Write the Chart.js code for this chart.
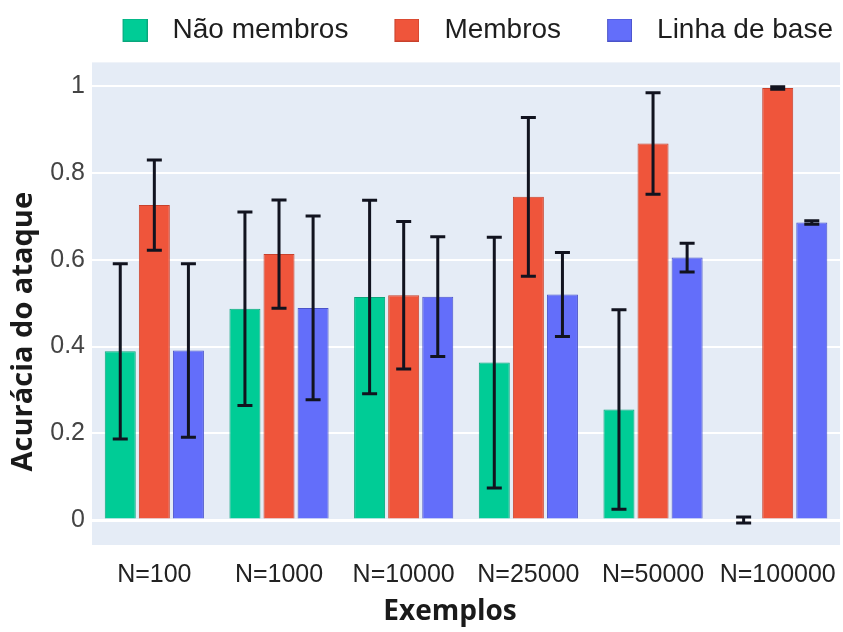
<!DOCTYPE html>
<html>
<head>
<meta charset="utf-8">
<script src="https://cdn.jsdelivr.net/npm/chart.js@4.4.0/dist/chart.umd.min.js"></script>
<style>
  html, body { margin: 0; padding: 0; background: #fff; }
</style>
</head>
<body>
<canvas id="chart" width="843" height="632"></canvas>
<script>
// dados
const categorias = ["N=100", "N=1000", "N=10000", "N=25000", "N=50000", "N=100000"];
const naoMembros = [0.389, 0.487, 0.514, 0.363, 0.255, 0.0];
const naoMembrosErro = [0.202, 0.223, 0.223, 0.289, 0.23, 0.007];
const membros = [0.726, 0.613, 0.518, 0.745, 0.868, 0.996];
const membrosErro = [0.104, 0.125, 0.17, 0.183, 0.117, 0.003];
const base = [0.391, 0.489, 0.515, 0.52, 0.605, 0.686];
const baseErro = [0.2, 0.212, 0.138, 0.097, 0.033, 0.004];
const yTicks = [0, 0.2, 0.4, 0.6, 0.8, 1];

const cores = ["#00CC96", "#EF553B", "#636EFA"];
const bordas = ["#0aa67c", "#c8412c", "#4a53c9"];

// quadradinho da legenda (desenhado à direita da imagem)
function quadrado(cor, borda) {
  const c = document.createElement("canvas");
  c.width = 50;
  c.height = 23;
  const g = c.getContext("2d");
  g.fillStyle = cor;
  g.fillRect(25, 0, 25, 23);
  g.strokeStyle = borda;
  g.lineWidth = 1;
  g.strokeRect(25.5, 0.5, 24, 22);
  return c;
}
const imagens = cores.map((c, i) => quadrado(c, bordas[i]));

// fundo do gráfico
const fundo = {
  id: "fundo",
  beforeDraw(chart) {
    const { ctx, chartArea: a } = chart;
    ctx.save();
    ctx.fillStyle = "#E5ECF6";
    ctx.fillRect(a.left, a.top, a.right - a.left, a.bottom - a.top);
    ctx.restore();
  }
};

// desloca os títulos dos eixos como no original
function deslocaTitulo(scale, dx, dy) {
  if (scale._deslocado) return;
  const orig = Object.getPrototypeOf(scale).drawTitle;
  scale.drawTitle = function () {
    this.ctx.save();
    this.ctx.translate(dx, dy);
    orig.call(this);
    this.ctx.restore();
  };
  scale._deslocado = true;
}
const titulos = {
  id: "titulos",
  beforeDraw(chart) {
    deslocaTitulo(chart.scales.y, 0, 28);
    deslocaTitulo(chart.scales.x, -16, 0);
  }
};

// barras de erro
const barrasErro = {
  id: "barrasErro",
  afterDatasetsDraw(chart) {
    const ctx = chart.ctx;
    const y = chart.scales.y;
    ctx.save();
    ctx.strokeStyle = "#11131f";
    ctx.lineWidth = 3;
    chart.data.datasets.forEach((ds, i) => {
      chart.getDatasetMeta(i).data.forEach((bar, j) => {
        const v = ds.data[j], e = ds.erro[j];
        const topo = y.getPixelForValue(v + e);
        const fim = y.getPixelForValue(v - e);
        const x = bar.x;
        ctx.beginPath();
        ctx.moveTo(x, topo); ctx.lineTo(x, fim);
        ctx.moveTo(x - 7.5, topo); ctx.lineTo(x + 7.5, topo);
        ctx.moveTo(x - 7.5, fim); ctx.lineTo(x + 7.5, fim);
        ctx.stroke();
      });
    });
    ctx.restore();
  }
};

new Chart(document.getElementById("chart"), {
  type: "bar",
  data: {
    labels: categorias,
    datasets: [
      { label: "Não membros", data: naoMembros, erro: naoMembrosErro },
      { label: "Membros", data: membros, erro: membrosErro },
      { label: "Linha de base", data: base, erro: baseErro }
    ].map((d, i) => Object.assign(d, {
      backgroundColor: cores[i],
      borderColor: bordas[i],
      borderWidth: 1,
      categoryPercentage: 0.82,
      barPercentage: 0.91
    }))
  },
  options: {
    responsive: false,
    animation: false,
    layout: { padding: { top: 6, left: 0, right: 0, bottom: 0 } },
    plugins: {
      tooltip: { enabled: false },
      legend: {
        position: "top",
        align: "end",
        labels: {
          usePointStyle: true,
          pointStyleWidth: 72,
          padding: 10,
          color: "#1e1e1e",
          font: { family: "Liberation Sans", size: 28 },
          generateLabels(chart) {
            const itens = Chart.defaults.plugins.legend.labels.generateLabels(chart);
            itens.forEach((it, i) => { it.pointStyle = imagens[i]; });
            return itens;
          }
        }
      },
      subtitle: {
        display: true,
        text: "",
        position: "top",
        fullSize: false,
        weight: 500,
        padding: 0,
        font: { size: 7 }
      }
    },
    scales: {
      x: {
        grid: { display: false },
        border: { display: false },
        ticks: {
          color: "#222",
          padding: 7,
          font: { family: "Liberation Sans", size: 25 },
          maxRotation: 0,
          autoSkip: false
        },
        title: {
          display: true,
          text: "Exemplos",
          color: "#1a1a1a",
          padding: { top: 0, bottom: 3 },
          font: { family: "Open Sans", size: 28, weight: "bold" }
        },
        afterFit(s) { s.height = 87; }
      },
      y: {
        min: -0.0576,
        max: 1.055,
        afterBuildTicks(s) { s.ticks = yTicks.map(v => ({ value: v })); },
        grid: {
          color: "#ffffff",
          lineWidth: c => (c.tick && c.tick.value === 0 ? 3 : 2),
          drawTicks: false
        },
        border: { display: false },
        ticks: {
          color: "#444",
          padding: 7,
          font: { family: "Liberation Sans", size: 25 },
          callback: v => String(v)
        },
        title: {
          display: true,
          text: "Acurácia do ataque",
          color: "#1a1a1a",
          padding: { top: 6, bottom: 0 },
          font: { family: "Open Sans", size: 29, weight: "bold" }
        },
        afterFit(s) { s.width = 92; }
      }
    }
  },
  plugins: [fundo, titulos, barrasErro]
});
</script>
</body>
</html>
